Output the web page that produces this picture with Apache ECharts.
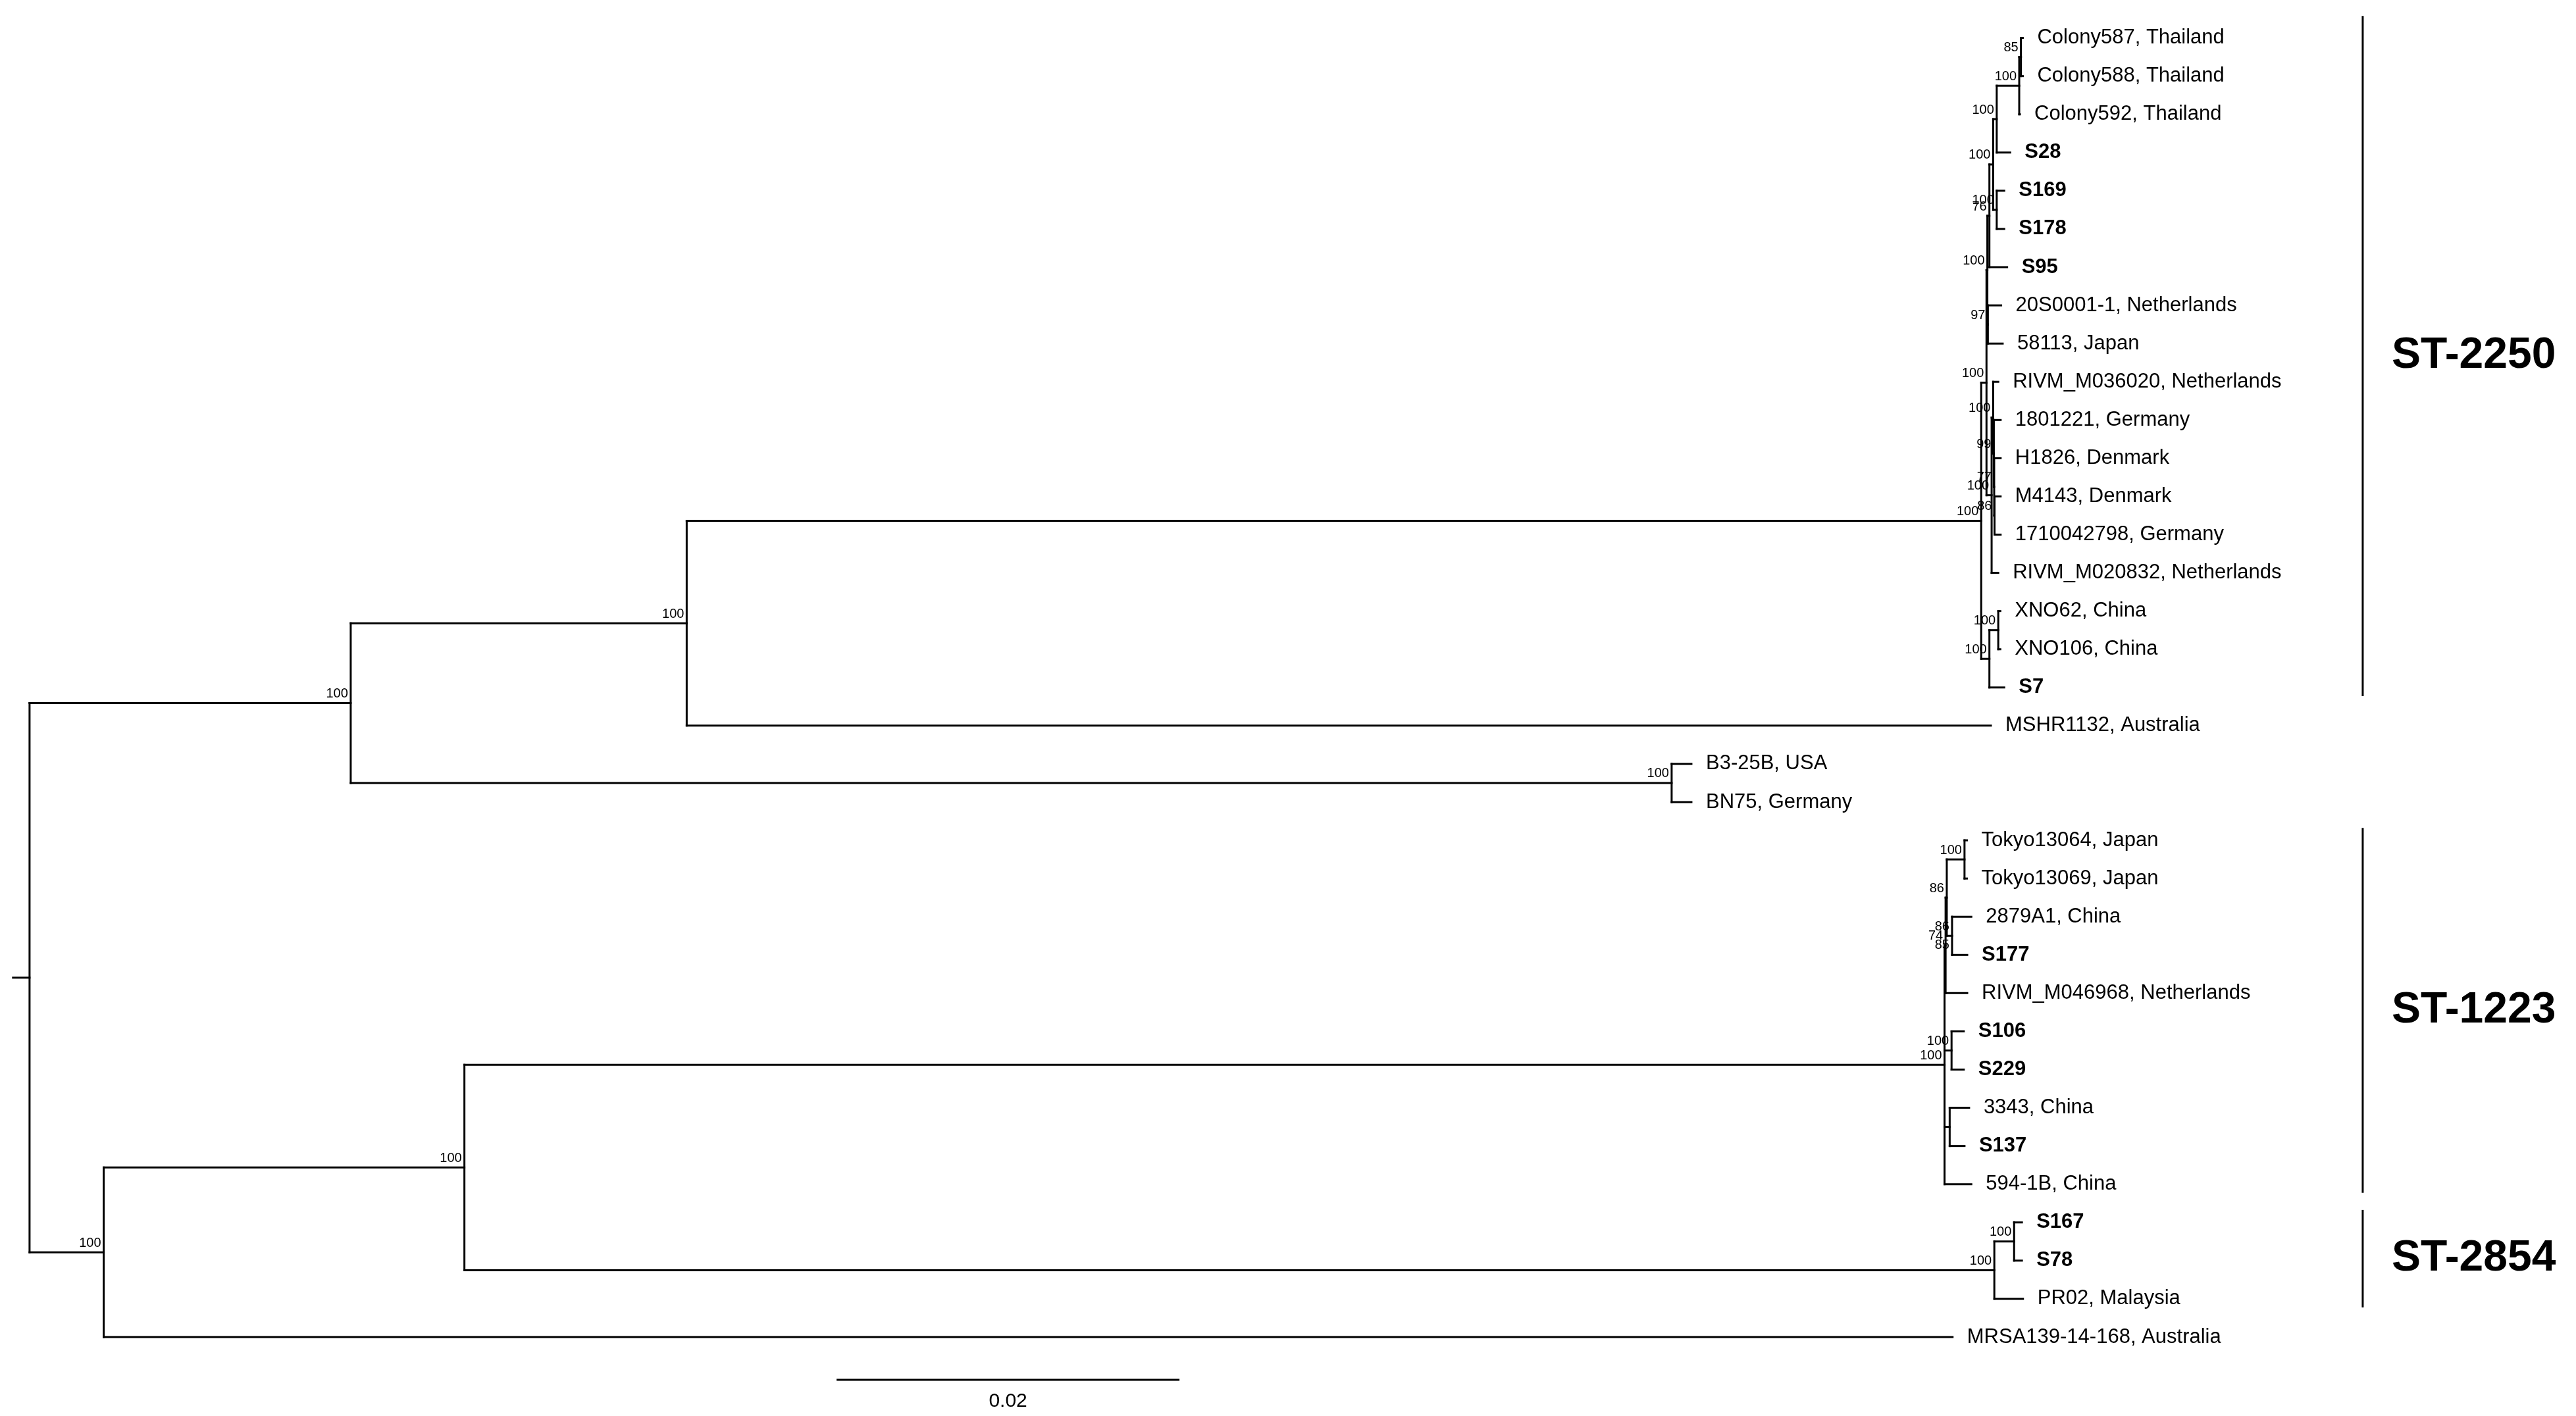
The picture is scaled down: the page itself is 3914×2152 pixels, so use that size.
<!DOCTYPE html>
<html lang="en">
<head>
	<meta charset="UTF-8">
	<title>tree</title>
	<style type="text/css">
	body,html{ width:100%; height:100%; margin:0; padding:0; background:#fff; }
	#container{ width:3914px; height:2152px; }
	</style>
</head>
<body>
<div id="container"></div>
<script type="text/javascript" src="https://cdn.jsdelivr.net/npm/echarts@6/dist/echarts.min.js"></script>
<script type="text/javascript">
// tree nodes: name, parent, depth (substitutions/site), bootstrap support
var nodeNames   = ['root','A','C','R','U','V','V1','Y','X','Col','P587','Colony587, Thailand','Colony588, Thailand','Colony592, Thailand','S28','Sx','S169','S178','S95','V2','20S0001-1, Netherlands','58113, Japan','W','W1','RIVM_M036020, Netherlands','W2','1801221, Germany','W4','H1826, Denmark','W5','M4143, Denmark','1710042798, Germany','RIVM_M020832, Netherlands','XS','XN','XNO62, China','XNO106, China','S7','MSHR1132, Australia','D','B3-25B, USA','BN75, Germany','F','G','K','K74','K86','TK','Tokyo13064, Japan','Tokyo13069, Japan','K4','2879A1, China','S177','RIVM_M046968, Netherlands','K2','S106','S229','K3','3343, China','S137','594-1B, China','N54','SN','S167','S78','PR02, Malaysia','MRSA139-14-168, Australia'];
var nodeParents = [null,'root','A','C','R','U','V','V1','Y','X','Col','P587','P587','Col','X','Y','Sx','Sx','V1','V','V2','V2','U','W','W1','W1','W2','W2','W4','W4','W5','W5','W','R','XS','XN','XN','XS','C','A','D','D','root','F','G','K','K74','K86','TK','TK','K86','K4','K4','K74','K','K2','K2','K','K3','K3','K','G','N54','SN','SN','N54','F'];
var nodeDepths  = [0,0.01884,0.03855,0.11449,0.11480,0.11485,0.11497,0.11519,0.11540,0.11672,0.11682,0.11693,0.11693,0.11676,0.11619,0.11540,0.11584,0.11584,0.11601,0.11488,0.11566,0.11575,0.11510,0.11519,0.11549,0.11523,0.11563,0.11525,0.11563,0.11527,0.11563,0.11563,0.11549,0.11497,0.11549,0.11561,0.11561,0.11584,0.11506,0.09633,0.09749,0.09749,0.00435,0.02551,0.11234,0.11240,0.11247,0.11351,0.11365,0.11365,0.11278,0.11391,0.11367,0.11367,0.11275,0.11347,0.11347,0.11264,0.11378,0.11351,0.11391,0.11526,0.11642,0.11688,0.11688,0.11694,0.11281];
var nodeSupport = ['','100','100','100','100','100','76','100','100','100','85','','','','','100','','','','97','','','100','100','','99','','77','','86','','','','100','100','','','','','100','','','100','100','100','74','86','100','','','86','','','','100','','','','','','','100','100','','','',''];
var supportBelow = {K4:'85'};
var cladeNames  = ['ST-2250','ST-1223','ST-2854'];
var cladeFirst  = ['Colony587, Thailand','Tokyo13064, Japan','S167'];
var cladeLast   = ['S7','594-1B, China','PR02, Malaysia'];
var scaleBar    = [0.0474, 0.0674, '0.02'];

// build tree and leaf order
var idx = {}, kids = {};
nodeNames.forEach(function(n,i){ idx[n]=i; kids[n]=[]; });
nodeNames.forEach(function(n,i){ if(nodeParents[i]) kids[nodeParents[i]].push(n); });
var yPos = {}, leafCount = 0;
function place(n){
	if(!kids[n].length){ yPos[n]=leafCount++; return yPos[n]; }
	var ys = kids[n].map(place);
	yPos[n] = (Math.min.apply(null,ys)+Math.max.apply(null,ys))/2;
	return yPos[n];
}
place('root');

var segs = [[-0.00097, yPos.root, 0, yPos.root]];
var texts = [];
nodeNames.forEach(function(n,i){
	var d = nodeDepths[i];
	if(nodeParents[i]) segs.push([nodeDepths[idx[nodeParents[i]]], yPos[n], d, yPos[n]]);
	if(kids[n].length){
		var ys = kids[n].map(function(k){ return yPos[k]; });
		segs.push([d, Math.min.apply(null,ys), d, Math.max.apply(null,ys)]);
		if(nodeSupport[i]) texts.push([d, yPos[n], nodeSupport[i], 'sup']);
		if(supportBelow[n]) texts.push([d, yPos[n], supportBelow[n], 'supb']);
	} else {
		texts.push([d, yPos[n], n, /^S\d+$/.test(n) ? 'bold' : 'leaf']);
	}
});
var barX = 0.13687;
cladeNames.forEach(function(c,i){
	var a = yPos[cladeFirst[i]] - (i === 0 ? 0.55 : 0.3), b = yPos[cladeLast[i]] + 0.2;
	segs.push([barX, a, barX, b]);
	texts.push([barX, (a+b)/2, c, 'clade']);
});
var sbY = leafCount - 1 + 1.12;
segs.push([scaleBar[0], sbY, scaleBar[1], sbY]);
texts.push([(scaleBar[0]+scaleBar[1])/2, sbY, scaleBar[2], 'scale']);

var font = 'Liberation Sans';
var option = {
	backgroundColor: '#fff',
	animation: false,
	grid: { left: 19, width: 3652, top: 57.6, height: 1974.4 },
	xAxis: { type: 'value', min: -0.001, max: 0.14, show: false },
	yAxis: { type: 'value', min: 0, max: leafCount - 1, inverse: true, show: false },
	series: [{
		type: 'custom', clip: false, data: segs,
		renderItem: function(params, api){
			var p1 = api.coord([api.value(0), api.value(1)]);
			var p2 = api.coord([api.value(2), api.value(3)]);
			return { type: 'line', shape: { x1: p1[0], y1: p1[1], x2: p2[0], y2: p2[1] },
				style: { stroke: '#000', lineWidth: 3, lineCap: 'square' } };
		}
	}, {
		type: 'custom', clip: false, data: texts,
		renderItem: function(params, api){
			var t = texts[params.dataIndex];
			var p = api.coord([t[0], t[1]]);
			var st = { fill: '#000', fontFamily: font, text: t[2] };
			if(t[3]==='leaf' || t[3]==='bold'){
				st.x = p[0] + 22; st.y = p[1]; st.fontSize = 31; st.align = 'left'; st.verticalAlign = 'middle';
				st.fontWeight = t[3]==='bold' ? 'bold' : 'normal';
			} else if(t[3]==='sup'){
				st.x = p[0] - 4; st.y = p[1] - 4; st.fontSize = 20; st.align = 'right'; st.verticalAlign = 'bottom';
			} else if(t[3]==='supb'){
				st.x = p[0] - 4; st.y = p[1] + 4; st.fontSize = 20; st.align = 'right'; st.verticalAlign = 'top';
			} else if(t[3]==='clade'){
				st.x = p[0] + 44; st.y = p[1]; st.fontSize = 66; st.fontWeight = 'bold'; st.align = 'left'; st.verticalAlign = 'middle';
			} else {
				st.x = p[0]; st.y = p[1] + 18; st.fontSize = 30; st.align = 'center'; st.verticalAlign = 'top';
			}
			return { type: 'text', style: st };
		}
	}]
};
var chart = echarts.init(document.getElementById('container'));
chart.setOption(option);
</script>
</body>
</html>
